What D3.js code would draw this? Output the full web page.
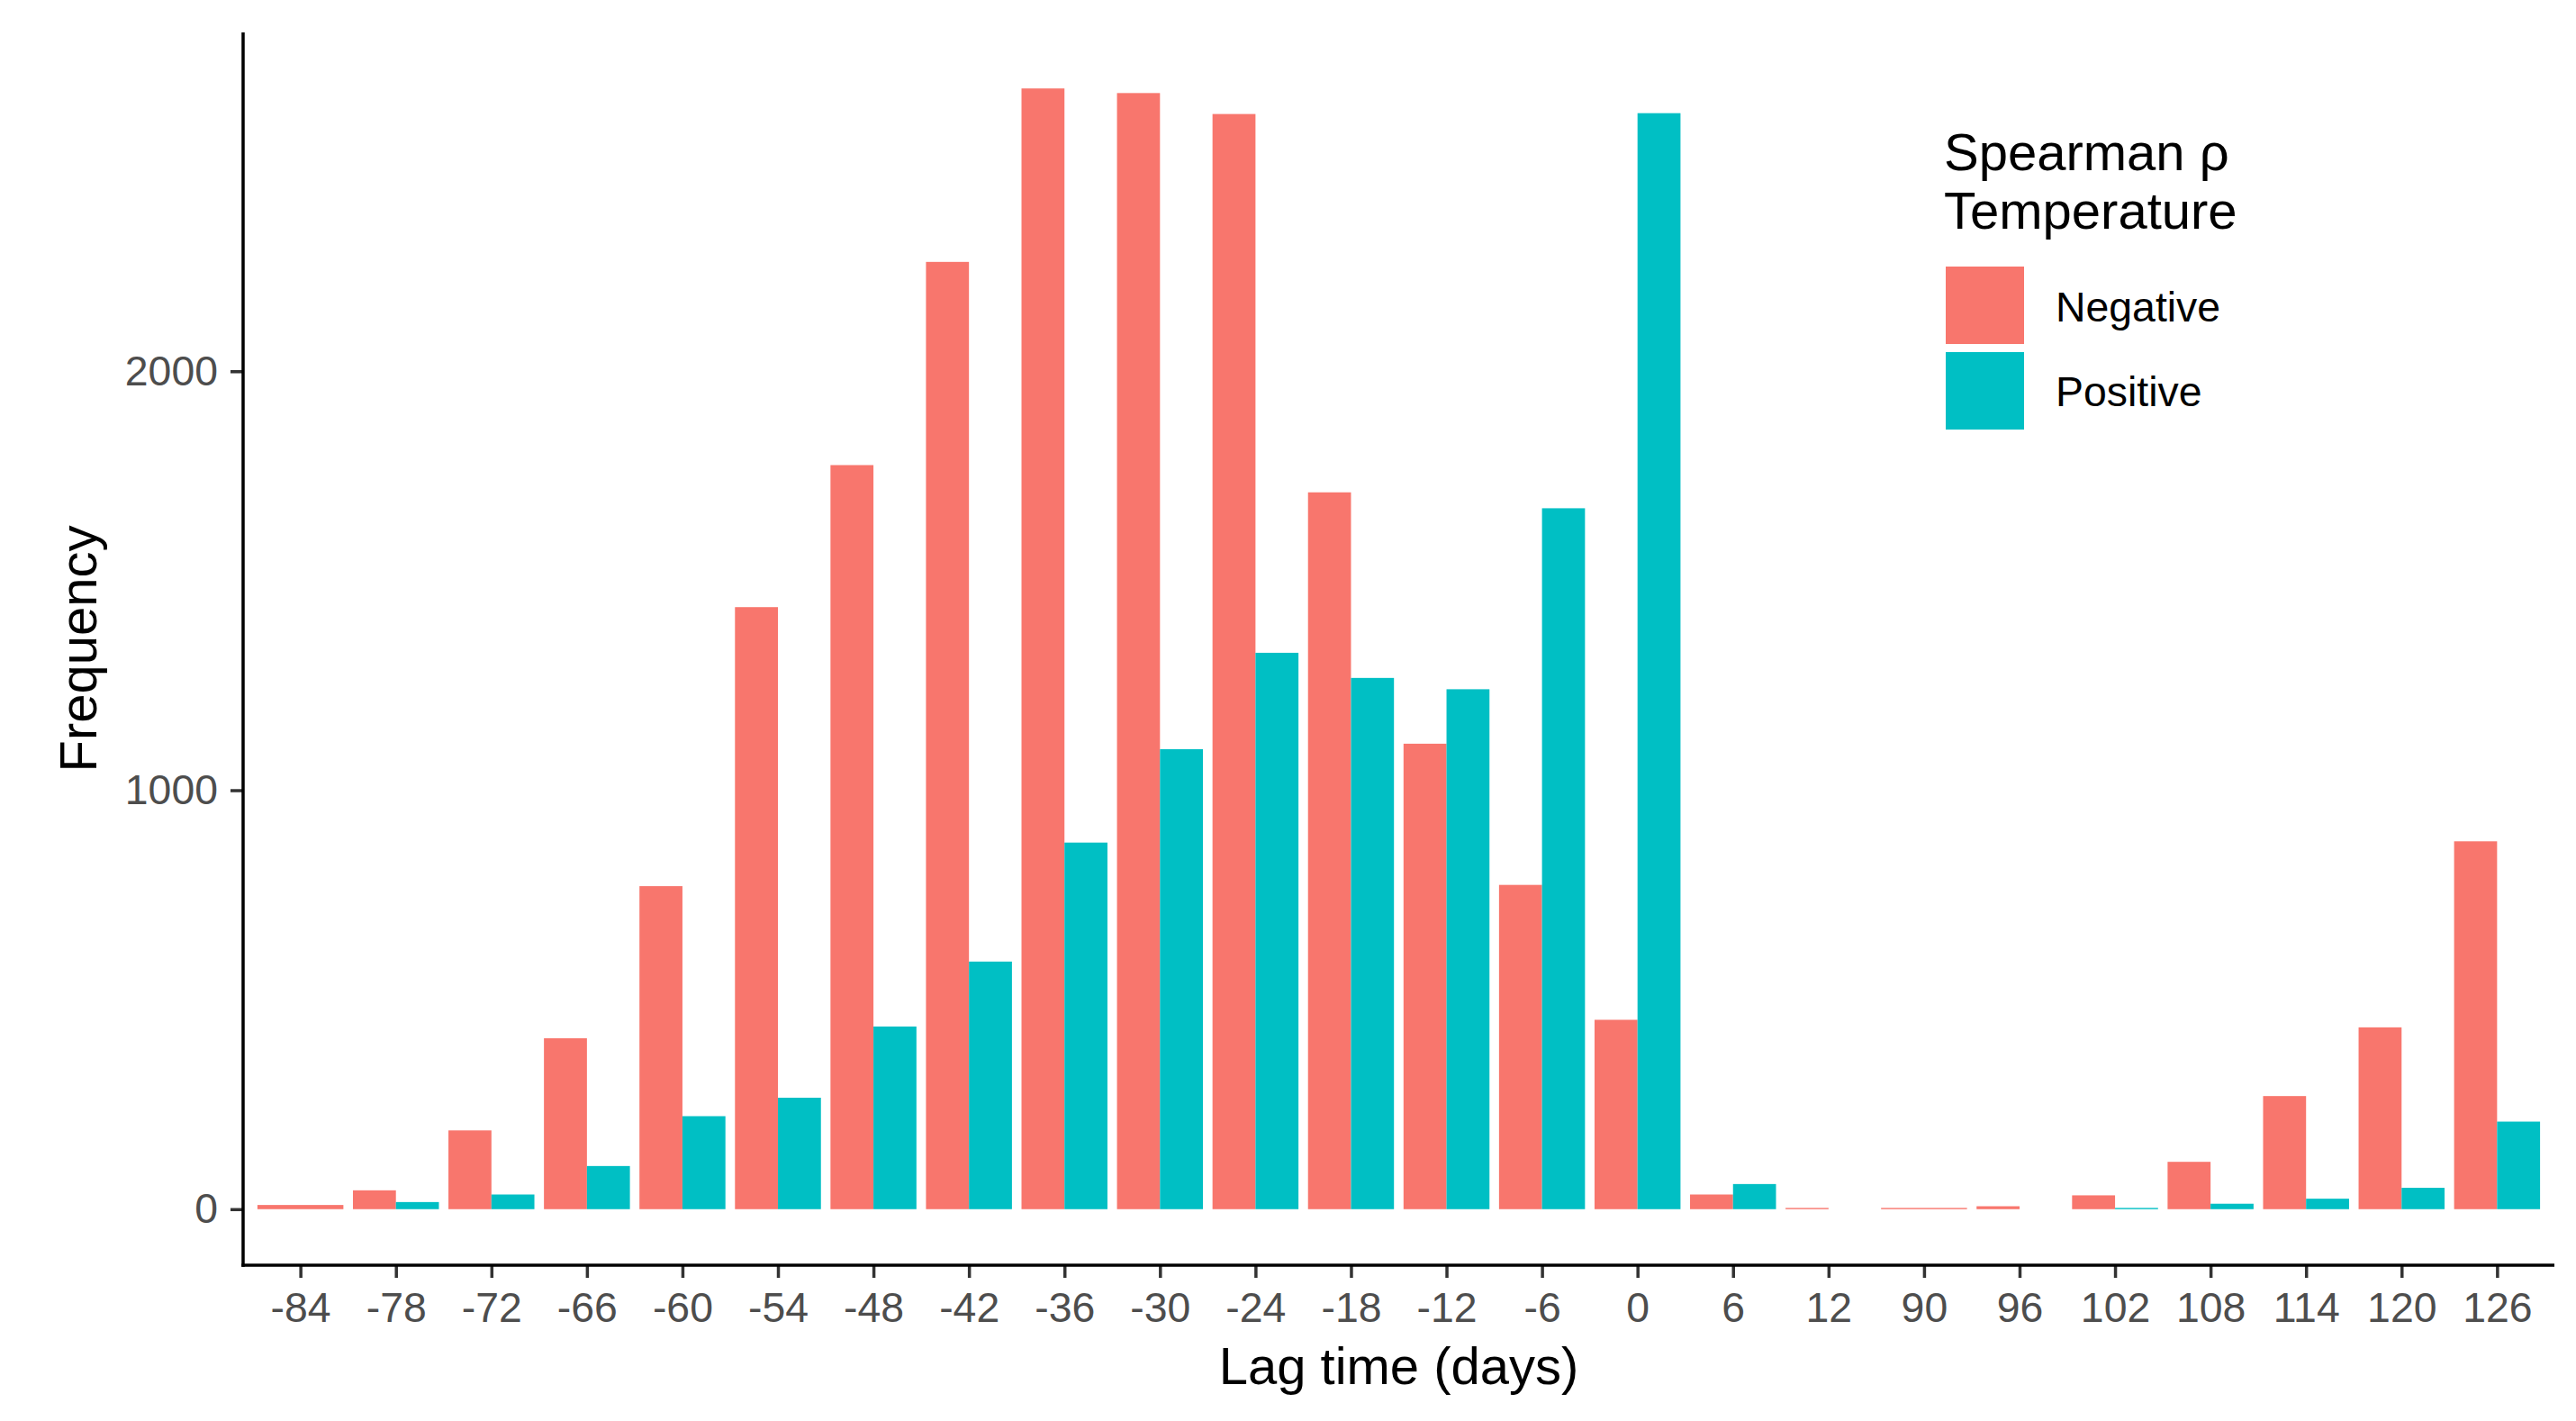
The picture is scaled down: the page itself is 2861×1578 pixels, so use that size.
<!DOCTYPE html>
<html>
<head>
<meta charset="utf-8">
<script src="https://cdn.jsdelivr.net/npm/d3@7"></script>
<style>
  html, body { margin: 0; padding: 0; background: #ffffff; }
  svg { display: block; }
  text { font-family: "Liberation Sans", Arial, Helvetica, sans-serif; }
</style>
</head>
<body>
<svg id="chart" width="2861" height="1578"></svg>
<script>
// ---- data ----
const categories = ["-84","-78","-72","-66","-60","-54","-48","-42","-36","-30","-24","-18","-12","-6","0","6","12","90","96","102","108","114","120","126"];
const negativeValues = [10, 45, 188, 408, 771, 1437, 1776, 2261, 2675, 2664, 2614, 1711, 1111, 774, 452, 35, 3, 3, 7, 33, 113, 270, 434, 878];
const positiveValues = [null, 17, 35, 103, 222, 266, 436, 591, 875, 1098, 1328, 1268, 1241, 1673, 2616, 60, 0, null, 0, 3, 13, 25, 51, 209];
const seriesNames = ["Negative", "Positive"];
const seriesColors = ["#F8766D", "#00BFC4"];
const yTicks = [0, 1000, 2000];
const legendTitle = ["Spearman ρ", "Temperature"];
const xTitle = "Lag time (days)";
const yTitle = "Frequency";

// ---- layout ----
const panel = { left: 270, right: 2837, top: 36, bottom: 1405 };
const svg = d3.select("#chart");

const x = d3.scalePoint().domain(categories).range([panel.left, panel.right]).padding(0.6);
const step = x.step();

const allVals = negativeValues.concat(positiveValues).filter(v => v != null);
const maxV = d3.max(allVals);
const y = d3.scaleLinear().domain([-0.05 * maxV, 1.05 * maxV]).range([panel.bottom, panel.top]);

const color = d3.scaleOrdinal().domain(seriesNames).range(seriesColors);

// build bar records (dodge like ggplot: width 0.9 split among present groups)
const bars = [];
categories.forEach((c, i) => {
  const present = [];
  if (negativeValues[i] != null) present.push({ s: "Negative", v: negativeValues[i] });
  if (positiveValues[i] != null) present.push({ s: "Positive", v: positiveValues[i] });
  const total = 0.9 * step;
  const sub = d3.scaleBand().domain(present.map(p => p.s)).range([x(c) - total / 2, x(c) + total / 2]);
  present.forEach(p => bars.push({ c, s: p.s, v: p.v, x0: sub(p.s), w: sub.bandwidth() }));
});

svg.append("g").selectAll("rect").data(bars).join("rect")
  .attr("x", d => d.x0)
  .attr("width", d => d.w)
  .attr("y", d => Math.min(y(d.v), y(0)))
  .attr("height", d => Math.abs(y(0) - y(d.v)))
  .attr("fill", d => color(d.s));

// ---- axes ----
const axisColor = "#000000";
const tickColor = "#333333";
const labelColor = "#4D4D4D";
const lw = 3.5;
const tickLen = 14;

// x axis
const xAxis = svg.append("g").attr("transform", `translate(0,${panel.bottom})`)
  .call(d3.axisBottom(x).tickSize(tickLen).tickPadding(16));
xAxis.select(".domain").remove();
xAxis.selectAll(".tick line").attr("stroke", tickColor).attr("stroke-width", lw);
xAxis.selectAll(".tick text").attr("fill", labelColor).attr("font-size", 46.4)
  .attr("font-family", '"Liberation Sans", Arial, sans-serif');

// y axis
const yAxis = svg.append("g").attr("transform", `translate(${panel.left},0)`)
  .call(d3.axisLeft(y).tickValues(yTicks).tickSize(tickLen).tickPadding(14).tickFormat(d3.format("d")));
yAxis.select(".domain").remove();
yAxis.selectAll(".tick line").attr("stroke", tickColor).attr("stroke-width", lw);
yAxis.selectAll(".tick text").attr("fill", labelColor).attr("font-size", 46.4)
  .attr("font-family", '"Liberation Sans", Arial, sans-serif');

// axis lines
svg.append("line").attr("x1", panel.left - lw / 2).attr("x2", panel.right)
  .attr("y1", panel.bottom).attr("y2", panel.bottom)
  .attr("stroke", axisColor).attr("stroke-width", lw);
svg.append("line").attr("x1", panel.left).attr("x2", panel.left)
  .attr("y1", panel.top).attr("y2", panel.bottom + lw / 2)
  .attr("stroke", axisColor).attr("stroke-width", lw);

// titles
svg.append("text").attr("x", (panel.left + panel.right) / 2).attr("y", 1537)
  .attr("text-anchor", "middle").attr("font-size", 58).attr("fill", "#000").text(xTitle);
svg.append("text")
  .attr("transform", `translate(107,${(panel.top + panel.bottom) / 2}) rotate(-90)`)
  .attr("text-anchor", "middle").attr("font-size", 58).attr("fill", "#000").text(yTitle);

// ---- legend ----
const lg = svg.append("g");
legendTitle.forEach((t, i) => {
  lg.append("text").attr("x", 2159).attr("y", 189 + i * 65)
    .attr("font-size", 58).attr("fill", "#000").text(t);
});
seriesNames.forEach((s, i) => {
  lg.append("rect").attr("x", 2161).attr("y", 296 + i * 95)
    .attr("width", 87).attr("height", 86).attr("fill", color(s));
  lg.append("text").attr("x", 2283).attr("y", 357 + i * 94)
    .attr("font-size", 46.4).attr("fill", "#000").text(s);
});
</script>
</body>
</html>
